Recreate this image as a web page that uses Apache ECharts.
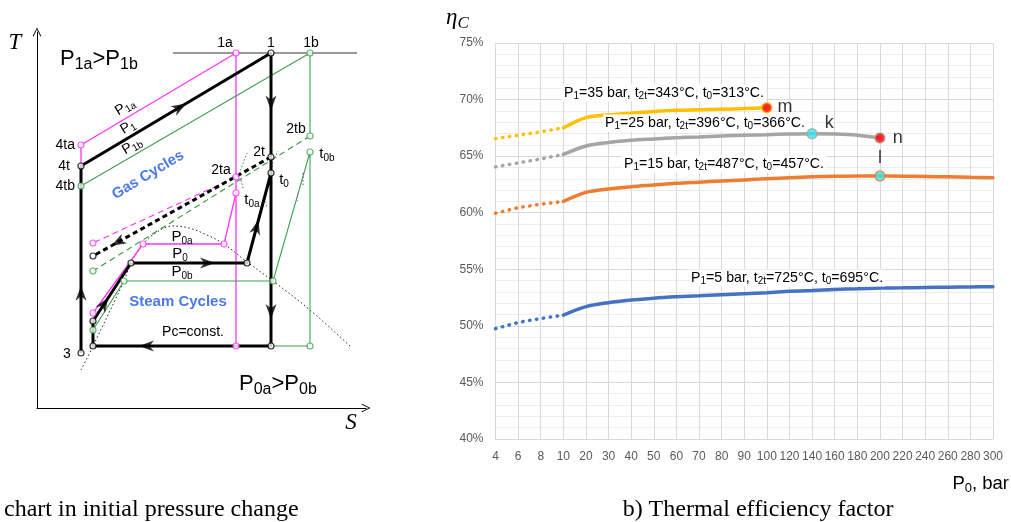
<!DOCTYPE html>
<html>
<head>
<meta charset="utf-8">
<title>T-s diagram and thermal efficiency</title>
<script src="https://cdn.jsdelivr.net/npm/echarts@6/dist/echarts.min.js"></script>
<style>
  html, body { margin: 0; padding: 0; background: #fff; }
  #chart { width: 1011px; height: 522px; }
</style>
</head>
<body>
<div id="chart"></div>
<script>
// ---- a) T-s diagram, schematic units (s to the right, T upwards) ----
const cycleBase = [[44, 55], [44, 242], [234, 355], [234, 62], [56, 62], [56, 87], [94, 145], [210, 145], [234, 235]];
const cycleAGas = [[44, 242], [44, 263], [199, 355], [199, 62]];
const cycleASteam = [[56, 95], [106, 164], [187, 164], [199, 215]];
const cycleBGas = [[44, 222], [273, 355], [273, 272]];
const cycleBSteam = [[56, 78], [87, 127], [236, 127], [273, 256], [273, 62], [234, 62]];
const exhaustBase = [[234, 251], [56, 152]];
const exhaustA = [[199, 231], [56, 165]];
const exhaustB = [[273, 272], [56, 137]];
const isobarTop = [[136, 355], [320, 355]];
const saturationDome = [[44, 38], [56, 62], [87, 127], [94, 145], [106, 164], [120, 176], [135, 182],
  [152, 180], [170, 173], [187, 164], [210, 146], [236, 127], [273, 98], [314, 61]];
const pointsBase = [[234, 355], [44, 242], [234, 251], [234, 235], [44, 55], [56, 62], [56, 87],
  [94, 145], [210, 145], [234, 62], [56, 152]];
const pointsA = [[199, 355], [44, 263], [199, 231], [199, 215], [56, 95], [106, 164], [187, 164], [199, 62], [56, 165]];
const pointsB = [[273, 355], [44, 222], [273, 272], [273, 256], [56, 78], [87, 127], [236, 127], [273, 62], [56, 137]];
// flow arrows: segment start, segment end, fraction along the segment
const flowArrows = [
  [[44, 242], [234, 355], 0.52],
  [[234, 355], [234, 251], 0.48],
  [[234, 235], [234, 62], 0.8],
  [[234, 62], [56, 62], 0.7],
  [[44, 55], [44, 242], 0.32],
  [[94, 145], [210, 145], 0.66],
  [[210, 145], [234, 235], 0.4],
  [[56, 87], [94, 145], 0.3],
  [[234, 251], [56, 152], 0.86]
];
const hintsGreen = [[[201, 231], [210, 255]], [[238, 250], [241, 257]]];
const hintsGray = [[[204, 228], [206, 220]], [[236, 246], [235, 240]], [[266, 235], [266, 223]]];
const hintsMagenta = [[[228, 210], [230, 200]], [[261, 215], [260, 206]]];

// ---- b) thermal efficiency factor, % ----
const p0Labels = ['4', '6', '8', '10', '20', '30', '40', '50', '60', '70', '80', '90', '100',
  '120', '140', '160', '180', '200', '220', '240', '260', '280', '300'];
const eta35 = [66.55, 66.85, 67.15, 67.5, 68.4, 68.65, 68.8, 68.95, 69.05, 69.1, 69.15, 69.2, 69.28];
const eta25 = [64.05, 64.4, 64.75, 65.15, 65.9, 66.2, 66.4, 66.52, 66.63, 66.7, 66.78, 66.85, 66.9,
  66.95, 66.98, 66.95, 66.85, 66.6];
const eta15 = [59.95, 60.45, 60.75, 61.0, 61.8, 62.1, 62.3, 62.45, 62.6, 62.7, 62.8, 62.9, 63.0,
  63.1, 63.18, 63.22, 63.25, 63.25, 63.23, 63.2, 63.17, 63.13, 63.1];
const eta5 = [49.75, 50.3, 50.65, 50.95, 51.7, 52.05, 52.28, 52.45, 52.57, 52.66, 52.75, 52.84, 52.93,
  53.05, 53.13, 53.22, 53.28, 53.34, 53.36, 53.39, 53.42, 53.44, 53.46];
const markerNames = ['m', 'k', 'n', 'l'];
const markerP0 = ['100', '140', '200', '200'];

const SANS = 'Liberation Sans';
const SERIF = 'Liberation Serif';
const BLUE_TXT = '#4a78ee';
const MAG = '#ff33ff';
const GRN = '#3da24f';

const chart = echarts.init(document.getElementById('chart'));

// rich text: main tokens {a|..}, subscripts {s|..}
function note(x, y, text, size, opts) {
  opts = opts || {};
  const color = opts.color || '#000';
  const base = { fontSize: size, fontFamily: opts.family || SANS, fontWeight: opts.weight || 'normal',
    fontStyle: opts.italic ? 'italic' : 'normal', fill: color };
  const style = Object.assign({}, base, {
    text: text, align: opts.align || 'center', verticalAlign: 'middle',
    rich: {
      a: base,
      s: Object.assign({}, base, { fontSize: Math.round(size * (opts.sub || 0.68)), padding: [Math.round(size * 0.5), 0, 0, 0] })
    }
  });
  if (opts.bg) {
    style.backgroundColor = opts.bg;
    style.padding = [0, 2, 0, 2];
  }
  return {
    type: 'text', x: x, y: y, rotation: (opts.rot || 0) * Math.PI / 180, silent: true, z: 10,
    style: style
  };
}

function tsLine(data, color, width, type, extra) {
  return Object.assign({
    type: 'line', xAxisIndex: 0, yAxisIndex: 0, data: data, symbol: 'none', silent: true,
    lineStyle: { color: color, width: width, type: type || 'solid' }, z: 3
  }, extra || {});
}

function tsPoints(data, color) {
  return {
    type: 'scatter', xAxisIndex: 0, yAxisIndex: 0, data: data, symbol: 'circle', symbolSize: 6, silent: true,
    itemStyle: { color: '#fff', borderColor: color, borderWidth: 1.2 }, z: 6
  };
}

const series = [];
series.push(tsLine(saturationDome, '#222', 1, [1.5, 2.5], { smooth: 0.35, z: 2 }));
series.push(tsLine(isobarTop, '#777', 1.3));
series.push(tsLine(cycleAGas, MAG, 1.3));
series.push(tsLine(cycleASteam, MAG, 1.3));
series.push(tsLine(cycleBGas, GRN, 1.1));
series.push(tsLine(cycleBSteam, GRN, 1.1));
series.push(tsLine(exhaustA, MAG, 1.1, [6, 4]));
series.push(tsLine(exhaustB, '#2f9a3a', 1.1, [6, 4]));
series.push(tsLine(exhaustBase, '#000', 3, [5, 3.5], { z: 4 }));
series.push(tsLine(cycleBase, '#000', 3, 'solid', { z: 4 }));
hintsGreen.forEach(function (h) { series.push(tsLine(h, '#2f9a3a', 1, [1.5, 2])); });
hintsGray.forEach(function (h) { series.push(tsLine(h, '#555', 1, [1.5, 2])); });
hintsMagenta.forEach(function (h) { series.push(tsLine(h, MAG, 1, [1.5, 2])); });
series.push(tsPoints(pointsA, MAG));
series.push(tsPoints(pointsB, GRN));
series.push(tsPoints(pointsBase, '#000'));
series.push({
  type: 'scatter', xAxisIndex: 0, yAxisIndex: 0, silent: true, z: 7,
  symbol: 'path://M5,0 L10,14 L5,10 L0,14 Z', symbolSize: [11, 15],
  itemStyle: { color: '#000' },
  data: flowArrows.map(function (a) {
    const p = a[0], q = a[1], t = a[2];
    const ang = Math.atan2(q[1] - p[1], q[0] - p[0]) * 180 / Math.PI;
    return { value: [p[0] + (q[0] - p[0]) * t, p[1] + (q[1] - p[1]) * t], symbolRotate: ang - 90 };
  })
});

// efficiency curves: dotted up to 10 bar, solid afterwards
function curve(values, color) {
  const common = { type: 'line', xAxisIndex: 1, yAxisIndex: 1, symbol: 'none', silent: true, z: 3 };
  series.push(Object.assign({}, common, {
    data: values.map(function (v, i) { return i <= 3 ? v : '-'; }),
    lineStyle: { color: color, width: 3.5, type: [0.5, 6.5], cap: 'round' }
  }));
  series.push(Object.assign({}, common, {
    data: values.map(function (v, i) { return i >= 3 ? v : '-'; }), smooth: 0.3,
    lineStyle: { color: color, width: 3.5, cap: 'round' }
  }));
}
curve(eta35, '#ffc000');
curve(eta25, '#a5a5a5');
curve(eta15, '#ed7d31');
curve(eta5, '#4472c4');

const markerCurves = [eta35, eta25, eta25, eta15];
const markerFill = ['#ff0000', '#33e6f0', '#ff0000', '#33e6f0'];
const markerEdge = ['#ffc000', '#a5a5a5', '#a5a5a5', '#ed7d31'];
const markerLabelPos = ['right', 'right', 'right', 'top'];
const markerLabelOffset = [[0, -1], [2, -11], [2, 0], [0, 2]];
series.push({
  type: 'scatter', xAxisIndex: 1, yAxisIndex: 1, symbolSize: 10, silent: true, z: 6,
  data: markerNames.map(function (n, i) {
    return {
      name: n,
      value: [markerP0[i], markerCurves[i][p0Labels.indexOf(markerP0[i])]],
      itemStyle: { color: markerFill[i], borderColor: markerEdge[i], borderWidth: 1.5 },
      label: { show: true, formatter: n, position: markerLabelPos[i], offset: markerLabelOffset[i],
        distance: 5, color: '#000', fontSize: 18, fontFamily: SANS }
    };
  })
});

const graphic = [
  // left panel
  note(15, 43, 'T', 23, { family: SERIF, italic: true }),
  note(60, 59, '{a|P}{s|1a}{a|>P}{s|1b}', 22, { align: 'left', sub: 0.72 }),
  note(225, 43, '{a|1a}', 14), note(271, 43, '{a|1}', 14), note(311, 43, '{a|1b}', 14),
  note(125, 107, '{a|P}{s|1a}', 14, { rot: 30.7 }),
  note(128, 127, '{a|P}{s|1}', 14, { rot: 30.7 }),
  note(132, 146, '{a|P}{s|1b}', 14, { rot: 30.7 }),
  note(75, 145, '{a|4ta}', 14, { align: 'right' }),
  note(70, 166, '{a|4t}', 14, { align: 'right' }),
  note(75, 186, '{a|4tb}', 14, { align: 'right' }),
  note(148, 175, '{a|Gas Cycles}', 15, { rot: 31, weight: 'bold', color: BLUE_TXT }),
  note(296, 129, '{a|2tb}', 14), note(259, 152, '{a|2t}', 14), note(221, 170, '{a|2ta}', 14),
  note(284, 180, '{a|t}{s|0}', 15), note(252, 200, '{a|t}{s|0a}', 15), note(327, 154, '{a|t}{s|0b}', 15),
  note(182, 237, '{a|P}{s|0a}', 15), note(180, 254, '{a|P}{s|0}', 15), note(182, 272, '{a|P}{s|0b}', 15),
  note(178, 302, '{a|Steam Cycles}', 15, { weight: 'bold', color: BLUE_TXT }),
  note(193, 332, '{a|Pc=const.}', 14),
  note(67, 354, '{a|3}', 14),
  note(239, 384, '{a|P}{s|0a}{a|>P}{s|0b}', 22, { align: 'left', sub: 0.72 }),
  note(351, 423, 'S', 23, { family: SERIF, italic: true }),
  note(4, 510, 'chart in initial pressure change', 24, { family: SERIF, align: 'left' }),
  // right panel
  note(446, 18, '{a|η}{s|C}', 23, { family: SERIF, italic: true, align: 'left', sub: 0.75 }),
  note(562, 93, '{a|P}{s|1}{a|=35 bar, t}{s|2t}{a|=343°C, t}{s|0}{a|=313°C.}', 14.2, { align: 'left', bg: '#fff' }),
  note(603, 123, '{a|P}{s|1}{a|=25 bar, t}{s|2t}{a|=396°C, t}{s|0}{a|=366°C.}', 14.2, { align: 'left', bg: '#fff' }),
  note(622, 164, '{a|P}{s|1}{a|=15 bar, t}{s|2t}{a|=487°C, t}{s|0}{a|=457°C.}', 14.2, { align: 'left', bg: '#fff' }),
  note(689, 278, '{a|P}{s|1}{a|=5 bar, t}{s|2t}{a|=725°C, t}{s|0}{a|=695°C.}', 14.2, { align: 'left', bg: '#fff' }),
  note(1009, 484, '{a|P}{s|0}{a|, bar}', 18.5, { align: 'right' }),
  note(758, 510, 'b) Thermal efficiency factor', 24, { family: SERIF })
];

const arrowHead = 'path://M0,10 L5,0 L10,10 L9,10.6 L5,2.2 L1,10.6 Z';

chart.setOption({
  animation: false,
  backgroundColor: '#fff',
  grid: [
    { left: 37, top: 32, width: 329, height: 376 },
    { left: 495.5, top: 43, right: 18, bottom: 83 }
  ],
  xAxis: [
    {
      type: 'value', gridIndex: 0, min: 0, max: 329,
      axisLine: { show: true, onZero: false, symbol: ['none', arrowHead], symbolSize: [10, 9],
        lineStyle: { color: '#000', width: 1 } },
      axisTick: { show: false }, axisLabel: { show: false }, splitLine: { show: false }
    },
    {
      type: 'category', gridIndex: 1, data: p0Labels, boundaryGap: false,
      axisLine: { lineStyle: { color: '#d9d9d9' } }, axisTick: { show: false },
      axisLabel: { interval: 0, color: '#595959', fontSize: 12, fontFamily: SANS, margin: 12 },
      splitLine: { show: true, lineStyle: { color: '#d9d9d9' } }
    }
  ],
  yAxis: [
    {
      type: 'value', gridIndex: 0, min: 0, max: 376,
      axisLine: { show: true, onZero: false, symbol: ['none', arrowHead], symbolSize: [10, 9],
        lineStyle: { color: '#000', width: 1 } },
      axisTick: { show: false }, axisLabel: { show: false }, splitLine: { show: false }
    },
    {
      type: 'value', gridIndex: 1, min: 40, max: 75, interval: 5,
      axisLine: { show: false }, axisTick: { show: false },
      axisLabel: { formatter: '{value}%', color: '#595959', fontSize: 12, fontFamily: SANS, margin: 12 },
      splitLine: { lineStyle: { color: '#d9d9d9' } },
      minorTick: { show: false, splitNumber: 5 },
      minorSplitLine: { show: true, lineStyle: { color: '#ececec' } }
    }
  ],
  graphic: graphic,
  series: series
});
</script>
</body>
</html>
